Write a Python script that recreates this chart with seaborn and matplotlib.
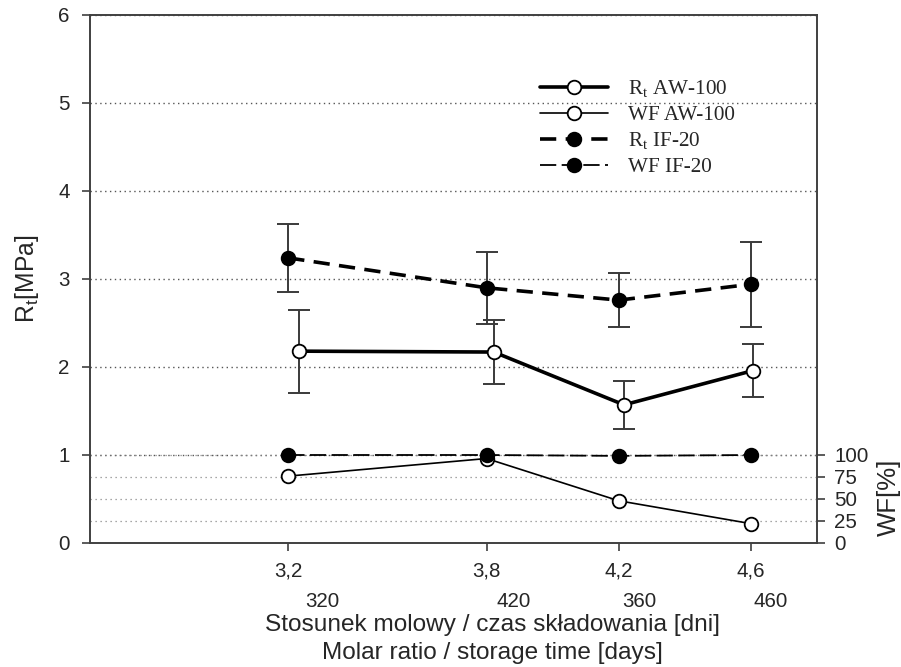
import numpy as np
import pandas as pd
import matplotlib
matplotlib.use("Agg")
import matplotlib.pyplot as plt
import seaborn as sns
from matplotlib import transforms

# ---------------- data ----------------
ratio = [3.2, 3.8, 4.2, 4.6]
ratio_labels = ["3,2", "3,8", "4,2", "4,6"]
days_labels = ["320", "420", "360", "460"]

rt_aw_x = [3.233, 3.822, 4.216, 4.607]
rt_aw = [2.18, 2.17, 1.57, 1.96]
rt_aw_err = [0.47, 0.36, 0.27, 0.30]

rt_if = [3.24, 2.90, 2.76, 2.94]
rt_if_err = [0.39, 0.41, 0.31, 0.48]

wf_aw = [76, 96, 48, 22]
wf_if = [100, 100, 99, 100]

series_labels = ["R$_\\mathregular{t}$ AW-100", "WF AW-100",
                 "R$_\\mathregular{t}$ IF-20", "WF IF-20"]

# ---------------- style ----------------
sns.set_style("ticks")
plt.rcParams['font.family'] = ['Liberation Sans', 'DejaVu Sans']
spine_col = '#404040'

fig = plt.figure(figsize=(9.01, 6.67), dpi=100)
ax = fig.add_axes([90 / 901, 124 / 667, 727 / 901, 528 / 667])
ax2 = ax.twinx()

# error bars
ax.errorbar(rt_aw_x, rt_aw, yerr=rt_aw_err, fmt='none', ecolor='#3a3a3a',
            elinewidth=1.4, capsize=8, capthick=1.4, zorder=2)
ax.errorbar(ratio, rt_if, yerr=rt_if_err, fmt='none', ecolor='#3a3a3a',
            elinewidth=1.4, capsize=8, capthick=1.4, zorder=2)

# lines
sns.lineplot(x=rt_aw_x, y=rt_aw, ax=ax, color='black', lw=2.6, marker='o',
             markersize=9.8, markerfacecolor='white', markeredgecolor='black',
             markeredgewidth=1.3, label=series_labels[0], zorder=3)
sns.lineplot(x=ratio, y=rt_if, ax=ax, color='black', lw=2.6, marker='o',
             markersize=9.8, markerfacecolor='black', markeredgecolor='black',
             markeredgewidth=1.3, linestyle=(0, (4.5, 2.6)),
             label=series_labels[2], zorder=3)
sns.lineplot(x=ratio, y=wf_aw, ax=ax2, color='black', lw=1.2, marker='o',
             markersize=9.8, markerfacecolor='white', markeredgecolor='black',
             markeredgewidth=1.3, label=series_labels[1], zorder=3)
sns.lineplot(x=ratio, y=wf_if, ax=ax2, color='black', lw=1.3, marker='o',
             markersize=9.8, markerfacecolor='black', markeredgecolor='black',
             markeredgewidth=1.3, linestyle=(0, (9, 3)),
             label=series_labels[3], zorder=3)

for a in (ax, ax2):
    if a.get_legend() is not None:
        a.get_legend().remove()

# axes ranges and ticks
ax.set_xlim(2.6, 4.8)
ax.set_ylim(0, 6)
ax2.set_ylim(0, 600)
ax.set_xticks(ratio)
ax.set_xticklabels(ratio_labels)
ax.set_yticks(range(0, 7))
ax2.set_yticks([0, 25, 50, 75, 100])

ax.yaxis.grid(True, linestyle=(0, (1, 2.5)), color='#555555', lw=1.0)
ax2.yaxis.grid(True, linestyle=(0, (1, 3)), color='#8a8a8a', lw=0.9)
ax.set_axisbelow(True)
ax2.set_axisbelow(True)

for a in (ax, ax2):
    for s in a.spines.values():
        s.set_visible(True)
        s.set_color(spine_col)
        s.set_linewidth(1.2)

ax.tick_params(axis='x', direction='out', length=6, width=1.2, color=spine_col,
               labelsize=14.8, pad=7.5)
ax.tick_params(axis='y', direction='out', length=5.5, width=1.2, color=spine_col,
               labelsize=14.8, pad=9)
ax2.tick_params(axis='y', direction='out', length=5.5, width=1.2, color=spine_col,
                labelsize=14.8, pad=7)

# second row of x tick labels
blend = transforms.blended_transform_factory(ax.transData, ax.transAxes)
day_offsets_pt = [24.5, 19.5, 15, 14]
for xv, lab, off in zip(ratio, days_labels, day_offsets_pt):
    ax.annotate(lab, xy=(xv, 0), xycoords=blend, xytext=(off, -35.5),
                textcoords='offset points', ha='center', va='top',
                fontsize=14.8)

# axis labels
ax.set_xlabel("Stosunek molowy / czas składowania [dni]\nMolar ratio / storage time [days]",
              fontsize=17.6, linespacing=1.38)
ax.xaxis.set_label_coords(0.553, -0.134)
ax.set_ylabel("R$_\\mathregular{t}$[MPa]", fontsize=17.8)
ax.yaxis.set_label_coords(-0.067, 0.5)
ax2.set_ylabel("WF[%]", fontsize=18.5)
ax2.yaxis.set_label_coords(1.083, 0.087)

# legend
h1, l1 = ax.get_legend_handles_labels()
h2, l2 = ax2.get_legend_handles_labels()
hd = dict(zip(l1 + l2, h1 + h2))
handles = [hd[l] for l in series_labels]
ax2.legend(handles, series_labels, loc='upper left', bbox_to_anchor=(0.619, 0.880),
           frameon=False, borderaxespad=0, borderpad=0, handlelength=3.2,
           handletextpad=0.95, labelspacing=0.25, numpoints=1,
           prop={'family': 'Liberation Serif', 'size': 15.2})

fig.savefig("out.png", dpi=100)
